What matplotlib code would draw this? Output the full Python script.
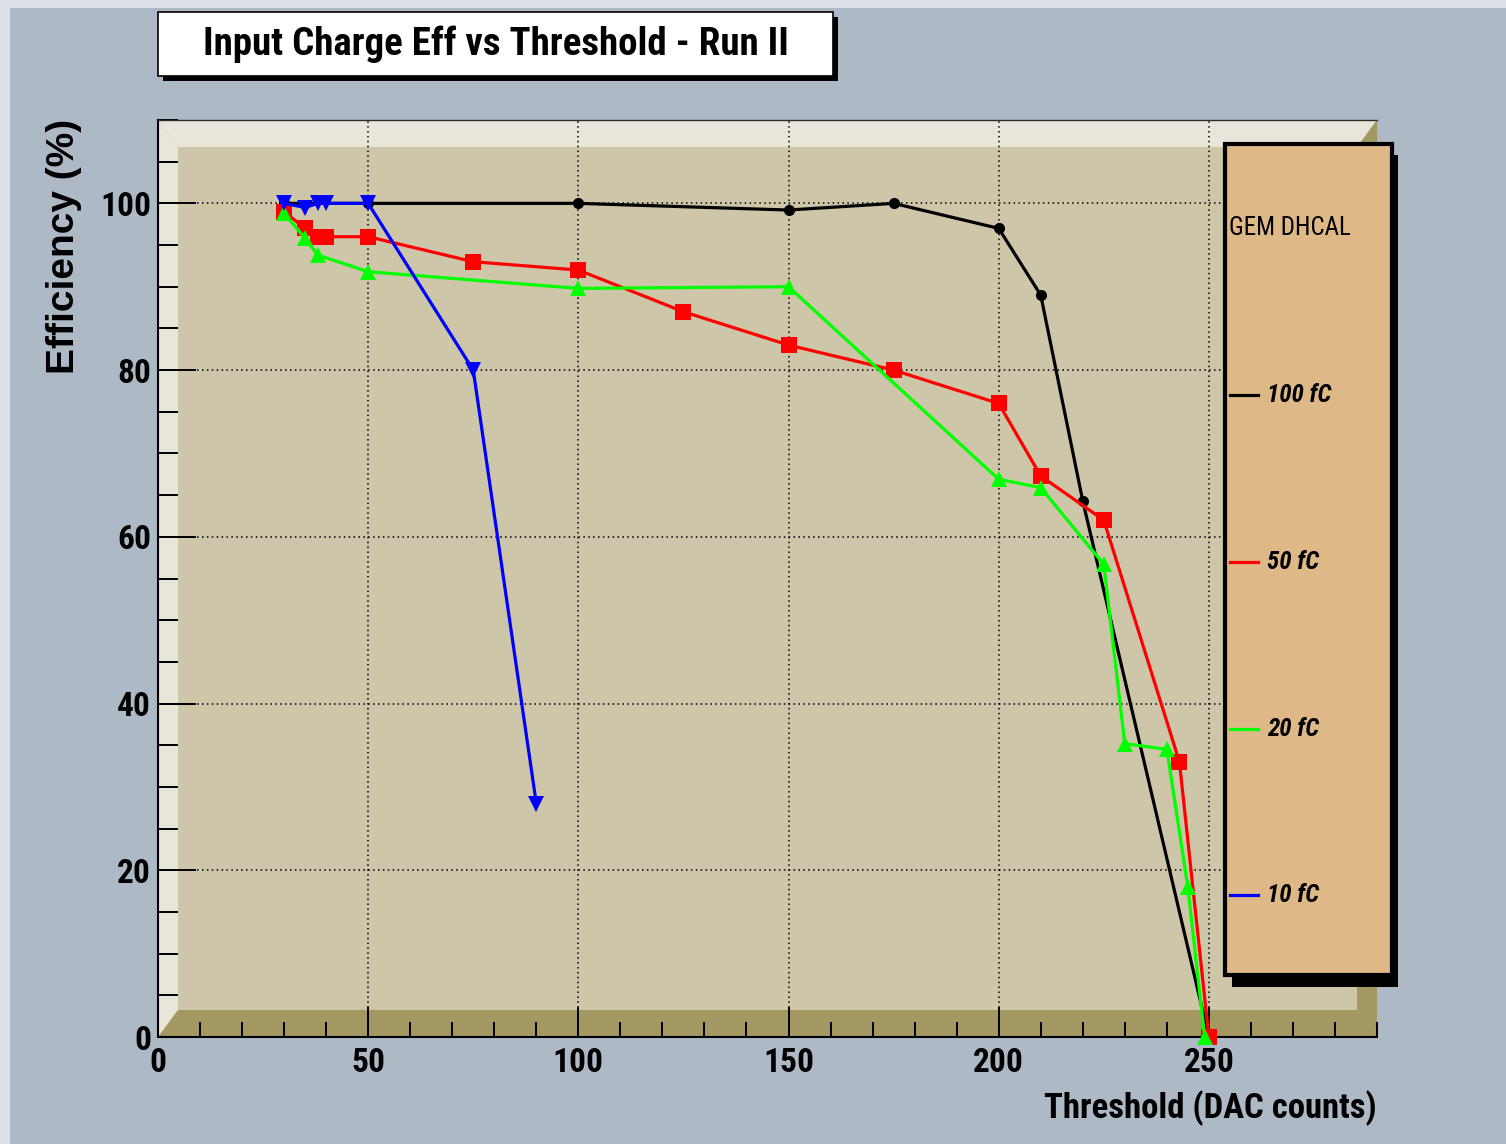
import numpy as np
import matplotlib.pyplot as plt
from matplotlib.patches import Polygon, Rectangle
from matplotlib.lines import Line2D
from matplotlib.ticker import MultipleLocator

# Data (threshold in DAC counts, efficiency in %)
thr100 = [30, 50, 100, 150, 175, 200, 210, 220, 250]
eff100 = [100, 100, 100, 99.2, 100, 97, 89, 64.3, 0]

thr50 = [30, 35, 38, 40, 50, 75, 100, 125, 150, 175, 200, 210, 225, 243, 250]
eff50 = [99, 97, 96, 96, 96, 93, 92, 87, 83, 80, 76, 67.3, 62, 33, 0]

thr20 = [30, 35, 38, 50, 100, 150, 200, 210, 225, 230, 240, 245, 249]
eff20 = [98.8, 95.8, 93.8, 91.8, 89.8, 90, 66.9, 65.9, 56.7, 35.2, 34.5, 18, 0]

thr10 = [30, 35, 38, 40, 50, 75, 90]
eff10 = [100, 99.5, 100, 100, 100, 80, 28]

series_labels = ["100 fC", "50 fC", "20 fC", "10 fC"]
series_colors = ["black", "red", "#00ff00", "blue"]
series_markers = ["o", "s", "^", "v"]
series_msize = [8, 11, 11, 11]

narrow = ['Roboto Condensed', 'Liberation Sans Narrow', 'Liberation Sans', 'DejaVu Sans']
wide = ['Liberation Sans', 'DejaVu Sans']

W, H = 1506, 1144
def fx(x):
    return x / W
def fy(y):
    return 1 - y / H

bg = '#adbac6'
fig = plt.figure(figsize=(W / 100, H / 100), dpi=100, facecolor=bg)

# canvas bevel
fig.add_artist(Rectangle((0, fy(8)), 1, 8 / H, transform=fig.transFigure,
                         facecolor='#dbe1e6', edgecolor='none', zorder=0))
fig.add_artist(Rectangle((0, 0), fx(10), 1, transform=fig.transFigure,
                         facecolor='#dbe1e6', edgecolor='none', zorder=0))

# frame from pixel 158..1377 (x) and 120..1037 (y)
ax = fig.add_axes([fx(158), fy(1037), (1377 - 158) / W, (1037 - 120) / H])
ax.set_facecolor('#cdc6a9')
ax.set_xlim(0, 290)
ax.set_ylim(0, 110)

# 3D-looking frame border (ROOT style)
dx = 20 / (1377 - 158)
dy = 27 / (1037 - 120)
light = '#e8e5d9'
dark = '#a39762'
ax.add_patch(Polygon([(0, 0), (0, 1), (dx, 1 - dy), (dx, dy)], closed=True,
                     transform=ax.transAxes, facecolor=light, edgecolor='none', zorder=0.1))
ax.add_patch(Polygon([(0, 1), (1, 1), (1 - dx, 1 - dy), (dx, 1 - dy)], closed=True,
                     transform=ax.transAxes, facecolor=light, edgecolor='none', zorder=0.1))
ax.add_patch(Polygon([(0, 0), (1, 0), (1 - dx, dy), (dx, dy)], closed=True,
                     transform=ax.transAxes, facecolor=dark, edgecolor='none', zorder=0.1))
ax.add_patch(Polygon([(1, 0), (1, 1), (1 - dx, 1 - dy), (1 - dx, dy)], closed=True,
                     transform=ax.transAxes, facecolor=dark, edgecolor='none', zorder=0.1))

ax.set_axisbelow(True)
ax.grid(True, which='major', color='black', linestyle=(0, (1, 2.2)), linewidth=1.1)

ax.xaxis.set_major_locator(MultipleLocator(50))
ax.xaxis.set_minor_locator(MultipleLocator(10))
ax.yaxis.set_major_locator(MultipleLocator(20))
ax.yaxis.set_minor_locator(MultipleLocator(5))
ax.tick_params(axis='both', which='both', direction='in', color='black', width=1.4)
ax.tick_params(axis='y', which='major', length=27, pad=5)
ax.tick_params(axis='y', which='minor', length=14.4)
ax.tick_params(axis='x', which='major', length=21.6, pad=7.5)
ax.tick_params(axis='x', which='minor', length=10.8)
for lab in ax.get_xticklabels() + ax.get_yticklabels():
    lab.set_family(narrow)
    lab.set_fontweight('bold')
    lab.set_fontsize(24)

for side in ['left', 'bottom']:
    ax.spines[side].set_linewidth(1.5)
    ax.spines[side].set_color('black')
ax.spines['top'].set_linewidth(1.0)
ax.spines['top'].set_color('#303030')
ax.spines['right'].set_visible(False)

all_x = [thr100, thr50, thr20, thr10]
all_y = [eff100, eff50, eff20, eff10]
for xs, ys, c, m, ms in zip(all_x, all_y, series_colors, series_markers, series_msize):
    ax.plot(xs, ys, color=c, linewidth=2.3, marker=m, markersize=ms,
            markeredgewidth=0, clip_on=False, zorder=3)

# axis titles
fig.text(fx(1377), fy(1108), "Threshold (DAC counts)", ha='right', va='center',
         fontsize=25, fontweight='bold', family=narrow)
fig.text(fx(64), fy(119), "Efficiency (%)", ha='center', va='top', rotation=90,
         fontsize=28, fontweight='bold', family=wide)

# title box
fig.add_artist(Rectangle((fx(163), fy(81)), (833 - 158) / W, (76 - 12) / H,
                         transform=fig.transFigure, facecolor='black', edgecolor='none', zorder=5))
fig.add_artist(Rectangle((fx(158), fy(76)), (833 - 158) / W, (76 - 12) / H,
                         transform=fig.transFigure, facecolor='white', edgecolor='black',
                         linewidth=1.2, zorder=6))
fig.text(fx(496), fy(44), "Input Charge Eff vs Threshold - Run II", ha='center', va='center',
         fontsize=28, fontweight='bold', family=narrow, zorder=7)

# legend box
fig.add_artist(Rectangle((fx(1232), fy(987)), (1398 - 1232) / W, (987 - 155) / H,
                         transform=fig.transFigure, facecolor='black', edgecolor='none', zorder=5))
fig.add_artist(Rectangle((fx(1225), fy(975)), (1392 - 1225) / W, (975 - 144) / H,
                         transform=fig.transFigure, facecolor='#deb887', edgecolor='black',
                         linewidth=3, zorder=6))
fig.text(fx(1229), fy(228), "GEM DHCAL", ha='left', va='center', fontsize=18,
         family=narrow, zorder=7)
leg_y = [395, 562, 729, 895]
for yy, lab, c in zip(leg_y, series_labels, series_colors):
    fig.add_artist(Line2D([fx(1230), fx(1258)], [fy(yy), fy(yy)], transform=fig.transFigure,
                          color=c, linewidth=2.3, zorder=7))
    fig.text(fx(1267), fy(yy), lab, ha='left', va='center', fontsize=18, fontweight='bold',
             fontstyle='italic', family=narrow, zorder=7)

fig.savefig("out.png", dpi=100, facecolor=bg)
